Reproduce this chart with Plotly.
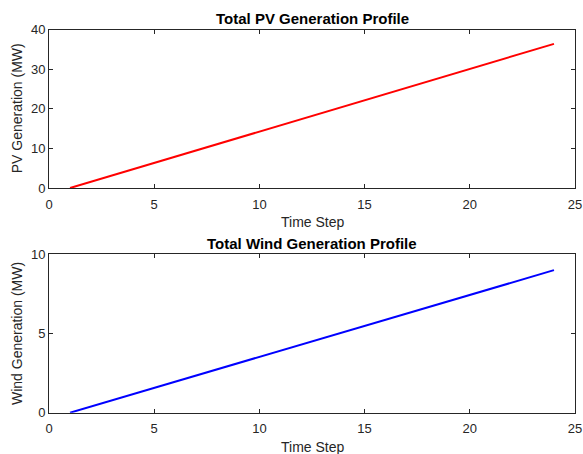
import plotly.graph_objects as go

time_step = list(range(1, 25))
pv_mw = [0.0, 1.58, 3.16, 4.75, 6.33, 7.91, 9.49, 11.07, 12.66, 14.24, 15.82, 17.40,
         18.98, 20.57, 22.15, 23.73, 25.31, 26.89, 28.47, 30.06, 31.64, 33.22, 34.80, 36.38]
wind_mw = [0.0, 0.39, 0.78, 1.17, 1.57, 1.96, 2.35, 2.74, 3.13, 3.52, 3.91, 4.30,
           4.70, 5.09, 5.48, 5.87, 6.26, 6.65, 7.04, 7.43, 7.83, 8.22, 8.61, 9.00]

titles = ["Total PV Generation Profile", "Total Wind Generation Profile"]
ylabels = ["PV Generation (MW)", "Wind Generation (MW)"]
xlabel = "Time Step"

W, H = 583, 454
AX = "#262626"
FONT = "Liberation Sans, Arial, Helvetica, sans-serif"

fig = go.Figure()
fig.add_trace(go.Scatter(x=time_step, y=pv_mw, mode="lines",
                         line=dict(color="#ff0000", width=2), xaxis="x", yaxis="y", showlegend=False))
fig.add_trace(go.Scatter(x=time_step, y=wind_mw, mode="lines",
                         line=dict(color="#0000ff", width=2), xaxis="x2", yaxis="y2", showlegend=False))

x0, x1 = 49, 575
top = (29.5, 188)
bot = (254.3, 412.7)

def ydom(p):
    return [1 - p[1] / H, 1 - p[0] / H]

common = dict(showline=True, linecolor=AX, linewidth=1, mirror="ticks", ticks="inside",
              ticklen=4, tickcolor=AX, tickwidth=1, showgrid=False, zeroline=False,
              automargin=False,
              tickfont=dict(family=FONT, size=13, color=AX))

fig.update_layout(
    width=W, height=H, margin=dict(l=0, r=0, t=0, b=0, autoexpand=False),
    paper_bgcolor="white", plot_bgcolor="white",
    xaxis=dict(domain=[x0 / W, x1 / W], range=[0, 25], dtick=5, anchor="y",
               ticklabelstandoff=4, **common),
    yaxis=dict(domain=ydom(top), range=[0, 40], dtick=10, anchor="x", **common),
    xaxis2=dict(domain=[x0 / W, x1 / W], range=[0, 25], dtick=5, anchor="y2",
                ticklabelstandoff=4, **common),
    yaxis2=dict(domain=ydom(bot), range=[0, 10], dtick=5, anchor="x2", **common),
)

cx = (x0 + x1) / 2 / W
ann = []
for i, (p, t, yl) in enumerate(zip([top, bot], titles, ylabels)):
    ann.append(dict(text="<b>%s</b>" % t, x=cx, y=1 - (p[0] - 11) / H, xref="paper", yref="paper",
                    xanchor="center", yanchor="middle", showarrow=False,
                    font=dict(family=FONT, size=15, color="black")))
    ann.append(dict(text=xlabel, x=cx, y=1 - (p[1] + 34) / H, xref="paper", yref="paper",
                    xanchor="center", yanchor="middle", showarrow=False,
                    font=dict(family=FONT, size=14, color=AX)))
    ann.append(dict(text=yl, x=16.5 / W, y=1 - (p[0] + p[1]) / 2 / H, xref="paper", yref="paper",
                    xanchor="center", yanchor="middle", showarrow=False, textangle=-90,
                    font=dict(family=FONT, size=14, color=AX)))
fig.update_layout(annotations=ann)

fig.write_html("out.html")
